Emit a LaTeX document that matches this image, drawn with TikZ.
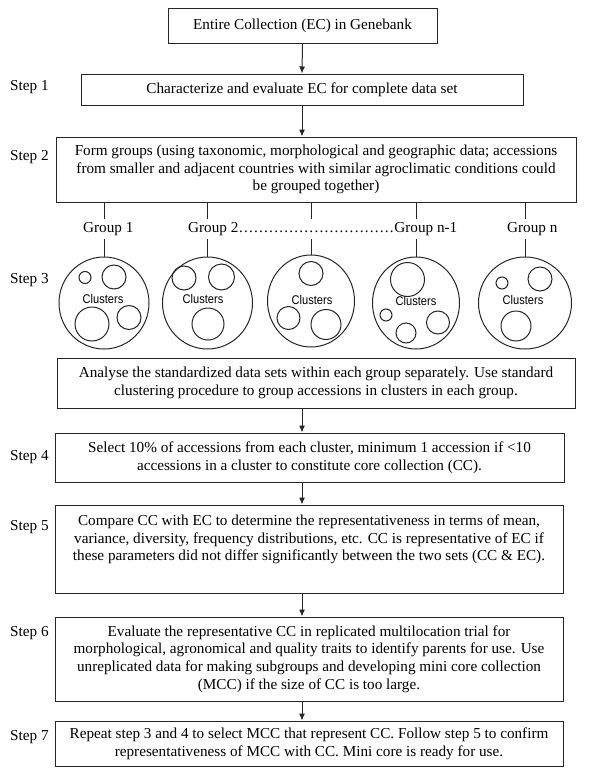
\documentclass[tikz,border=0pt]{standalone}
\usepackage{fontspec}
\setmainfont{Liberation Serif}
\newfontfamily\clfont[FakeStretch=0.88]{Liberation Sans}
\usetikzlibrary{arrows.meta,shapes.geometric}
\tikzset{
  box/.style={draw=black!85, line width=1pt, rectangle, inner sep=0pt, align=center},
  arr/.style={draw=black!85, line width=1pt, -{Latex[length=7pt,width=6pt]}},
  ln/.style={draw=black!85, line width=1pt},
  steplbl/.style={anchor=west, inner sep=0pt},
  grp/.style={inner xsep=0pt, inner ysep=3pt},
  outer/.style={draw=black!85, line width=1pt, ellipse, minimum width=90pt, minimum height=92pt, inner sep=0pt},
  inner/.style={draw=black!85, line width=1pt},
  cl/.style={inner sep=0pt, font=\clfont\fontsize{12.6}{14}\selectfont}
}
\begin{document}
\begin{tikzpicture}[x=1pt,y=-1pt, font=\fontsize{15.2}{17.7}\selectfont]
\useasboundingbox (0,0) rectangle (596,779);
% boxes
\node[box, minimum width=269pt, minimum height=35pt] (ec) at (302.5,25.5) {Entire Collection (EC) in Genebank};
\node[box, minimum width=442pt, minimum height=31pt] (s1) at (302,89.5) {Characterize and evaluate EC for complete data set};
\node[box, minimum width=520pt, minimum height=65pt] (s2) at (316,169.5) {Form groups (using taxonomic, morphological and geographic data; accessions\\from smaller and adjacent countries with similar agroclimatic conditions could\\be grouped together)};
\node[box, minimum width=518pt, minimum height=50pt] (an) at (316,383) {Analyse the standardized data sets within each group separately. Use standard\\clustering procedure to group accessions in clusters in each group.};
\node[box, minimum width=509pt, minimum height=49pt] (s4) at (309.5,457.5) {Select 10\% of accessions from each cluster, minimum 1 accession if <10\\accessions in a cluster to constitute core collection (CC).};
\node[box, minimum width=508pt, minimum height=88pt] (s5) at (309,549) {Compare CC with EC to determine the representativeness in terms of mean,\\variance, diversity, frequency distributions, etc. CC is representative of EC if\\these parameters did not differ significantly between the two sets (CC \& EC).\\[5pt]\mbox{}};
\node[box, minimum width=508pt, minimum height=84pt] (s6) at (309,659) {Evaluate the representative CC in replicated multilocation trial for\\morphological, agronomical and quality traits to identify parents for use. Use\\unreplicated data for making subgroups and developing mini core collection\\(MCC) if the size of CC is too large.};
\node[box, minimum width=508pt, minimum height=45pt] (s7) at (309,743.5) {Repeat step 3 and 4 to select MCC that represent CC. Follow step 5 to confirm\\representativeness of MCC with CC. Mini core is ready for use.};
% step labels
\node[steplbl] (l1) at (10,87) {Step 1};
\node[steplbl] (l2) at (10,157) {Step 2};
\node[steplbl] (l3) at (10,280) {Step 3};
\node[steplbl] (l4) at (10,457) {Step 4};
\node[steplbl] (l5) at (10,527) {Step 5};
\node[steplbl] (l6) at (10,633) {Step 6};
\node[steplbl] (l7) at (10,737) {Step 7};
% arrows
\draw[arr] (ec.south) -- (s1.north);
\draw[arr] (s1.south) -- (s1.south |- s2.north);
\draw[arr] (an.south -| s1.south) -- (s4.north -| s1.south);
\draw[arr] (s4.south -| s1.south) -- (s5.north -| s1.south);
\draw[arr] (s5.south -| s1.south) -- (s6.north -| s1.south);
\draw[arr] (s6.south -| s1.south) -- (s7.north -| s1.south);
% group labels
\node[grp, anchor=west] (g1) at (83,229) {Group 1};
\node[grp, anchor=west] (gm) at (188,229) {Group 2\hbox to 156pt{\xleaders\hbox to 5pt{\hss.\hss}\hfill}Group n-1};
\node[grp, anchor=west] (gn) at (507,229) {Group n};
% group circles
\node[outer] (c1) at (104,303) {};
\node[outer] (c2) at (207.5,303) {};
\node[outer, minimum width=87pt] (c3) at (311,301) {};
\node[outer, minimum width=87pt] (c4) at (416,303) {};
\node[outer, minimum width=93pt] (c5) at (525,303) {};
% group connectors
\draw[ln] (c1 |- s2.south) -- (c1 |- g1.north);
\draw[ln] (c1 |- g1.south) -- (c1.north);
\draw[ln] (c2 |- s2.south) -- (c2 |- gm.north);
\draw[ln] (c2 |- gm.south) -- (c2.north);
\draw[ln] (c3 |- s2.south) -- (c3 |- gm.north);
\draw[ln] (c3 |- gm.south) -- (c3.north);
\draw[ln] (c4 |- s2.south) -- (c4 |- gm.north);
\draw[ln] (c4 |- gm.south) -- (c4.north);
\draw[ln] (c5 |- s2.south) -- (c5 |- gn.north);
\draw[ln] (c5 |- gn.south) -- (c5.north);
% clusters labels
\node[cl] (k1) at (103,299) {Clusters};
\node[cl] (k2) at (203,299) {Clusters};
\node[cl] (k3) at (312,300) {Clusters};
\node[cl] (k4) at (416,301) {Clusters};
\node[cl] (k5) at (523,300) {Clusters};
% inner circles
\draw[inner] (85,277.5) circle[radius=6pt];
\draw[inner] (114,277) circle[radius=12pt];
\draw[inner] (92,324) circle[radius=17pt];
\draw[inner] (129,317.5) circle[radius=12pt];
\draw[inner] (184,278) circle[radius=12pt];
\draw[inner] (221.5,277) circle[radius=13pt];
\draw[inner] (208,324) circle[radius=16pt];
\draw[inner] (311,273.5) circle[radius=12pt];
\draw[inner] (288.5,318) circle[radius=11.5pt];
\draw[inner] (326,324.5) circle[radius=15pt];
\draw[inner] (407.5,279.5) circle[radius=17pt];
\draw[inner] (386,315) circle[radius=6pt];
\draw[inner] (406,333) circle[radius=10pt];
\draw[inner] (438,322.5) circle[radius=11.5pt];
\draw[inner] (502,283) circle[radius=6pt];
\draw[inner] (540,279) circle[radius=12pt];
\draw[inner] (516,326) circle[radius=15pt];
\end{tikzpicture}
\end{document}
